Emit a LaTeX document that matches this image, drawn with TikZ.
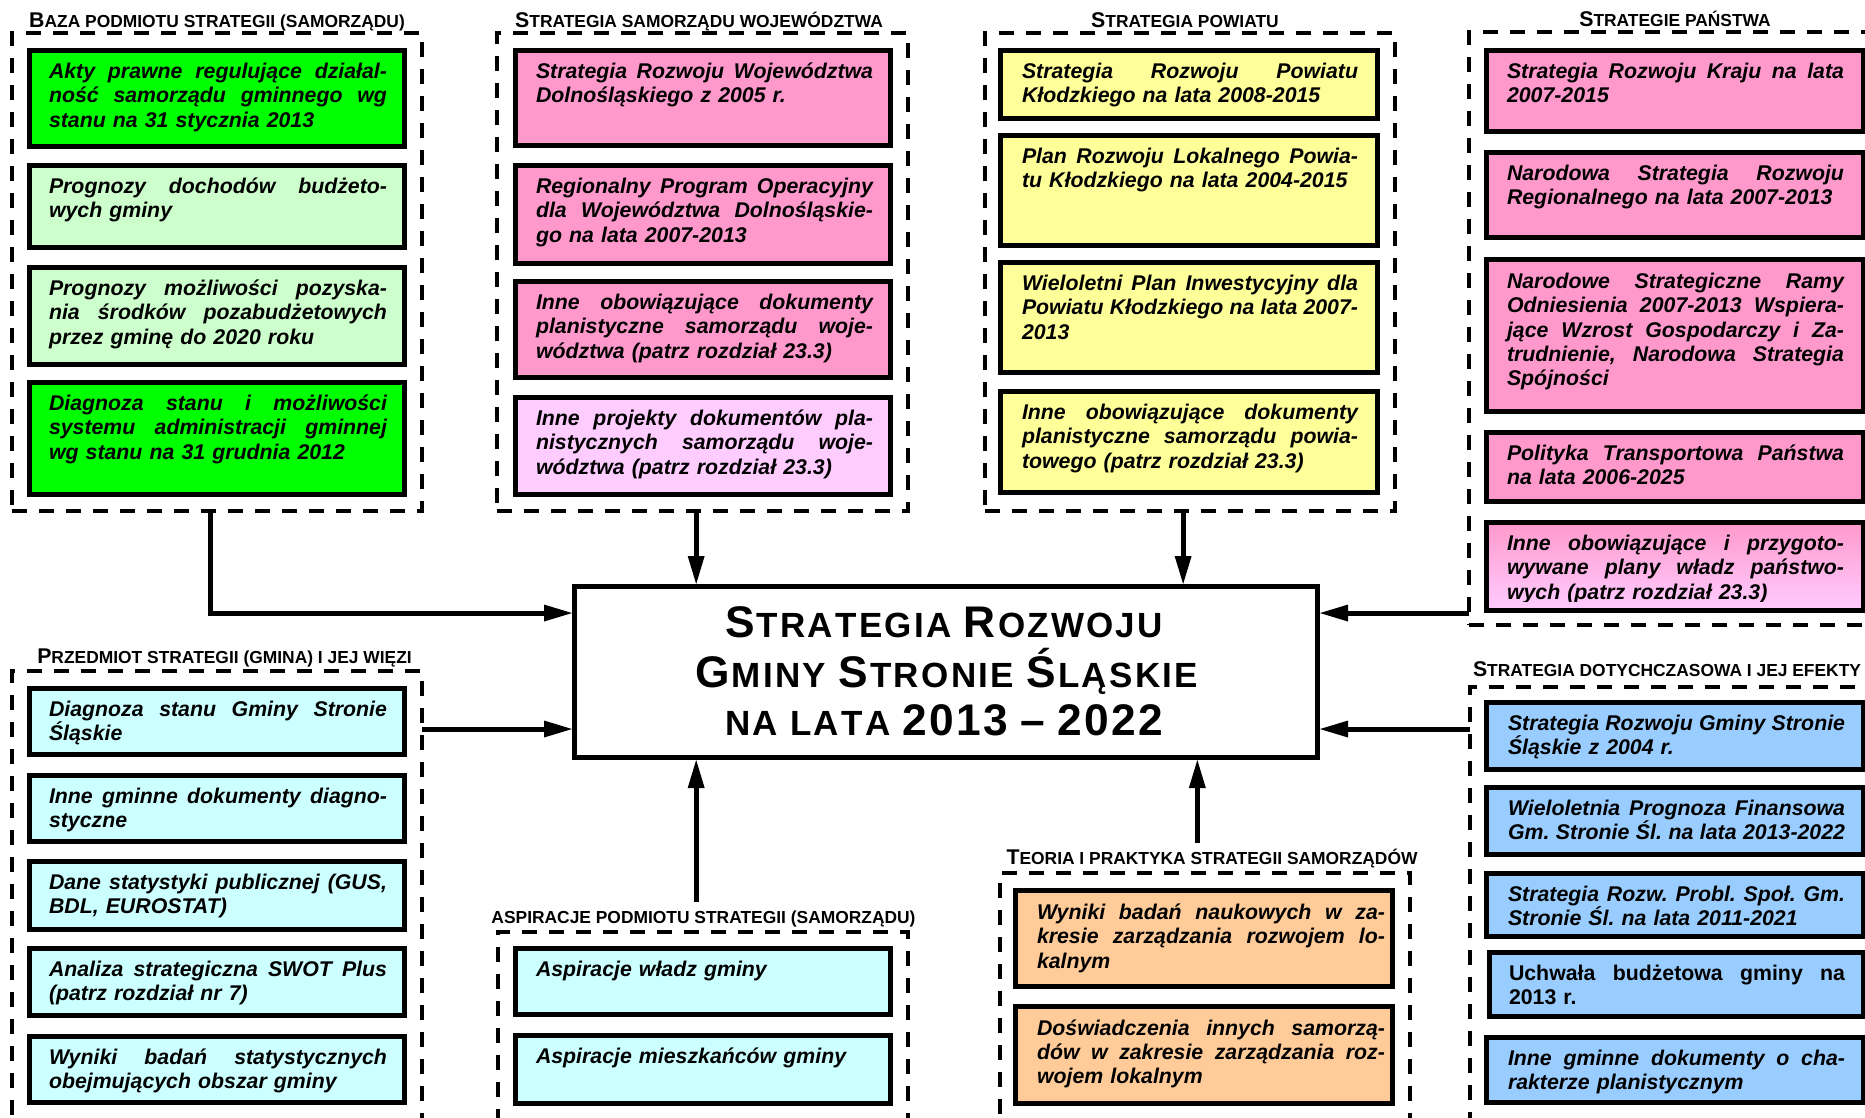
\documentclass[tikz,border=0pt]{standalone}
\usepackage{fontspec}
\setmainfont{Liberation Sans}
\usetikzlibrary{arrows.meta,calc}
\definecolor{cGreen}{HTML}{00FF00}
\definecolor{cLGreen}{HTML}{CCFFCC}
\definecolor{cPink}{HTML}{FF99CC}
\definecolor{cLPink}{HTML}{FFCCFF}
\definecolor{cYellow}{HTML}{FFFF99}
\definecolor{cCyan}{HTML}{CCFFFF}
\definecolor{cPeach}{HTML}{FFCC99}
\definecolor{cBlue}{HTML}{99CCFF}
\newlength\jw
\newcommand\jl[1]{\leavevmode\hbox to\jw{\spaceskip=.278em plus 1fil\relax\xspaceskip=\spaceskip #1}}
\newcommand\Lg[1]{{\fontsize{21.3}{20}\selectfont #1}}
\newcommand\Cg[1]{{\fontsize{44.3}{40}\selectfont #1}}
\newcommand\lgap{\hskip 0pt plus 1fil\relax}
\newcommand\wgap{\hskip 10pt plus 1fil\relax}
\newcommand\ibox[6]{\node[ibx,#2,minimum width={#5-#3-5},minimum height={#6-#4-5}] (#1) at ({#3+2.5},{#4+2.5}) {};}
\newcommand\itext[5]{\node[itx,text width=#4pt] (#1) at (#2,{#3-22}) {\jw=#4pt\relax\rule{0pt}{22pt}#5};}
\newcommand\grpbox[6]{\node[grp,minimum width={#5-#3},minimum height={#6-#4}] (#1) at (#3,#4) {};}
\begin{document}
\begin{tikzpicture}[x=1pt,y=-1pt,
  grp/.style={draw, line width=4pt, dash pattern=on 15pt off 12pt, inner sep=0pt, outer sep=0pt, anchor=north west},
  ibx/.style={draw, line width=5pt, inner sep=0pt, outer sep=0pt, anchor=north west},
  itx/.style={inner sep=0pt, outer sep=0pt, anchor=north west, align=left, font=\fontsize{21.3}{24.3}\selectfont\bfseries\itshape\frenchspacing},
  gttl/.style={inner sep=0pt, anchor=base, font=\fontsize{17.4}{20}\selectfont\bfseries},
  cbx/.style={draw, line width=5pt, fill=white, inner sep=0pt},
  ctt/.style={inner sep=0pt, anchor=base, font=\bfseries\fontsize{35}{40}\selectfont},
  arr/.style={line width=5pt, -{Triangle[length=28pt,width=17pt,line width=0pt]}}]
\useasboundingbox (0,0) rectangle (1865,1118);
\clip (0,0) rectangle (1865,1118);
\fill[white] (0,0) rectangle (1865,1118);

% ---------- dashed groups ----------
\grpbox{gBaza}{}{12}{33}{422}{511}
\grpbox{gWoj}{}{497}{33}{908}{511}
\grpbox{gPow}{}{985}{33}{1395}{511}
\grpbox{gPan}{}{1469}{32}{1889}{625}
\grpbox{gPrz}{}{12}{671}{422}{1150}
\grpbox{gAsp}{}{498}{932}{908}{1150}
\grpbox{gTeo}{}{1000}{873}{1410}{1150}
\grpbox{gDot}{}{1470}{687}{1890}{1150}

% ---------- group titles ----------
\node[gttl] (tBaza) at (217,28) {\Lg{B}AZA PODMIOTU STRATEGII (SAMORZĄDU)};
\node[gttl] (tWoj) at (699,28) {\Lg{S}TRATEGIA SAMORZĄDU WOJEWÓDZTWA};
\node[gttl] (tPow) at (1185,28) {\Lg{S}TRATEGIA POWIATU};
\node[gttl] (tPan) at (1675,27) {\Lg{S}TRATEGIE PAŃSTWA};
\node[gttl] (tPrz) at (224.5,663) {\Lg{P}RZEDMIOT STRATEGII (GMINA) I JEJ WIĘZI};
\node[gttl] (tAsp) at (703.5,923) {ASPIRACJE PODMIOTU STRATEGII (SAMORZĄDU)};
\node[gttl] (tTeo) at (1212,864) {\Lg{T}EORIA I PRAKTYKA STRATEGII SAMORZĄDÓW};
\node[gttl] (tDot) at (1667,676) {\Lg{S}TRATEGIA DOTYCHCZASOWA I JEJ EFEKTY};

% ---------- Baza ----------
\ibox{b1}{fill=cGreen}{27}{48}{407}{149}
\itext{b1t}{49}{78.5}{338}{\jl{Akty prawne regulujące działal-}\\\jl{ność samorządu gminnego wg}\\stanu na 31 stycznia 2013}
\ibox{b2}{fill=cLGreen}{27}{163}{407}{250}
\itext{b2t}{49}{193.5}{338}{\jl{Prognozy dochodów budżeto-}\\wych gminy}
\ibox{b3}{fill=cLGreen}{27}{265}{407}{367}
\itext{b3t}{49}{295.5}{338}{\jl{Prognozy możliwości pozyska-}\\\jl{nia środków pozabudżetowych}\\przez gminę do 2020 roku}
\ibox{b4}{fill=cGreen}{27}{380}{407}{497}
\itext{b4t}{49}{410.5}{338}{\jl{Diagnoza stanu i możliwości}\\\jl{systemu administracji gminnej}\\wg stanu na 31 grudnia 2012}

% ---------- Wojewodztwo ----------
\ibox{w1}{fill=cPink}{513}{48}{893}{148}
\itext{w1t}{536}{78.5}{337}{\jl{Strategia Rozwoju Województwa}\\Dolnośląskiego z 2005 r.}
\ibox{w2}{fill=cPink}{513}{163}{893}{266}
\itext{w2t}{536}{193.5}{337}{\jl{Regionalny Program Operacyjny}\\\jl{dla Województwa Dolnośląskie-}\\go na lata 2007-2013}
\ibox{w3}{fill=cPink}{513}{279}{893}{380}
\itext{w3t}{536}{309.5}{337}{\jl{Inne obowiązujące dokumenty}\\\jl{planistyczne samorządu woje-}\\wództwa (patrz rozdział 23.3)}
\ibox{w4}{fill=cLPink}{513}{395}{893}{497}
\itext{w4t}{536}{425.5}{337}{\jl{Inne projekty dokumentów pla-}\\\jl{nistycznych samorządu woje-}\\wództwa (patrz rozdział 23.3)}

% ---------- Powiat ----------
\ibox{p1}{fill=cYellow}{998}{48}{1380}{121}
\itext{p1t}{1022}{78.5}{336}{\jl{Strategia Rozwoju Powiatu}\\Kłodzkiego na lata 2008-2015}
\ibox{p2}{fill=cYellow}{998}{133}{1380}{248}
\itext{p2t}{1022}{163.5}{336}{\jl{Plan Rozwoju Lokalnego Powia-}\\tu Kłodzkiego na lata 2004-2015}
\ibox{p3}{fill=cYellow}{998}{260}{1380}{375}
\itext{p3t}{1022}{290.5}{336}{\jl{Wieloletni Plan Inwestycyjny dla}\\\jl{Powiatu Kłodzkiego na lata 2007-}\\2013}
\ibox{p4}{fill=cYellow}{998}{389}{1380}{495}
\itext{p4t}{1022}{419.5}{336}{\jl{Inne obowiązujące dokumenty}\\\jl{planistyczne samorządu powia-}\\towego (patrz rozdział 23.3)}

% ---------- Panstwo ----------
\ibox{s1}{fill=cPink}{1484}{48}{1866}{134}
\itext{s1t}{1507}{78.5}{337}{\jl{Strategia Rozwoju Kraju na lata}\\2007-2015}
\ibox{s2}{fill=cPink}{1484}{150}{1866}{240}
\itext{s2t}{1507}{180.5}{337}{\jl{Narodowa Strategia Rozwoju}\\Regionalnego na lata 2007-2013}
\ibox{s3}{fill=cPink}{1484}{257}{1866}{414}
\itext{s3t}{1507}{288.5}{337}{\jl{Narodowe Strategiczne Ramy}\\\jl{Odniesienia 2007-2013 Wspiera-}\\\jl{jące Wzrost Gospodarczy i Za-}\\\jl{trudnienie, Narodowa Strategia}\\Spójności}
\ibox{s4}{fill=cPink}{1484}{430}{1866}{504}
\itext{s4t}{1507}{460.5}{337}{\jl{Polityka Transportowa Państwa}\\na lata 2006-2025}
\ibox{s5}{top color=cPink,bottom color=cLPink}{1484}{520}{1866}{613}
\begin{scope}
\clip (1484,520) rectangle (1866,601);
\itext{s5t}{1507}{550.5}{337}{\jl{Inne obowiązujące i przygoto-}\\\jl{wywane plany władz państwo-}\\wych (patrz rozdział 23.3)}
\end{scope}

% ---------- Przedmiot ----------
\ibox{g1}{fill=cCyan}{27}{686}{407}{757}
\itext{g1t}{49}{716.5}{338}{\jl{Diagnoza stanu Gminy Stronie}\\Śląskie}
\ibox{g2}{fill=cCyan}{27}{773}{407}{844}
\itext{g2t}{49}{803.5}{338}{\jl{Inne gminne dokumenty diagno-}\\styczne}
\ibox{g3}{fill=cCyan}{27}{859}{407}{932}
\itext{g3t}{49}{889.5}{338}{\jl{Dane statystyki publicznej (GUS,}\\BDL, EUROSTAT)}
\ibox{g4}{fill=cCyan}{27}{946}{407}{1018}
\itext{g4t}{49}{976.5}{338}{\jl{Analiza strategiczna SWOT Plus}\\(patrz rozdział nr 7)}
\ibox{g5}{fill=cCyan}{27}{1034}{407}{1105}
\itext{g5t}{49}{1064.5}{338}{\jl{Wyniki badań statystycznych}\\obejmujących obszar gminy}

% ---------- Aspiracje ----------
\ibox{a1}{fill=cCyan}{513}{946}{893}{1017}
\itext{a1t}{536}{976.5}{337}{Aspiracje władz gminy}
\ibox{a2}{fill=cCyan}{513}{1033}{893}{1106}
\itext{a2t}{536}{1063.5}{337}{Aspiracje mieszkańców gminy}

% ---------- Teoria ----------
\ibox{t1}{fill=cPeach}{1013}{888}{1395}{989}
\itext{t1t}{1037}{919.5}{348}{\jl{Wyniki badań naukowych w za-}\\\jl{kresie zarządzania rozwojem lo-}\\kalnym}
\ibox{t2}{fill=cPeach}{1013}{1004}{1395}{1106}
\itext{t2t}{1037}{1035}{348}{\jl{Doświadczenia innych samorzą-}\\\jl{dów w zakresie zarządzania roz-}\\wojem lokalnym}

% ---------- Dotychczasowa ----------
\ibox{d1}{fill=cBlue}{1484}{700}{1866}{772}
\itext{d1t}{1508}{730.5}{337}{\jl{Strategia Rozwoju Gminy Stronie}\\Śląskie z 2004 r.}
\ibox{d2}{fill=cBlue}{1484}{785}{1866}{857}
\itext{d2t}{1508}{815.5}{337}{\jl{Wieloletnia Prognoza Finansowa}\\\jl{Gm. Stronie Śl. na lata 2013-2022}}
\ibox{d3}{fill=cBlue}{1484}{871}{1866}{939}
\itext{d3t}{1508}{901.5}{337}{\jl{Strategia Rozw. Probl. Społ. Gm.}\\Stronie Śl. na lata 2011-2021}
\ibox{d4}{fill=cBlue}{1487}{950}{1866}{1019}
\itext{d4t}{1509}{980.5}{336}{\upshape\jl{Uchwała budżetowa gminy na}\\2013 r.}
\ibox{d5}{fill=cBlue}{1484}{1035}{1866}{1105}
\itext{d5t}{1508}{1065.5}{337}{\jl{Inne gminne dokumenty o cha-}\\rakterze planistycznym}

% ---------- central box ----------
\node[cbx, minimum width=743, minimum height=171] (cbox) at (946,672) {};
\node[ctt] (ct1) at (944,637) {\hbox to 438pt{\Cg{S}\lgap T\lgap R\lgap A\lgap T\lgap E\lgap G\lgap I\lgap A\wgap\Cg{R}\lgap O\lgap Z\lgap W\lgap O\lgap J\lgap U}};
\node[ctt] (ct2) at (946.5,687) {\hbox to 503pt{\Cg{G}\lgap M\lgap I\lgap N\lgap Y\wgap\Cg{S}\lgap T\lgap R\lgap O\lgap N\lgap I\lgap E\wgap\Cg{Ś}\lgap L\lgap Ą\lgap S\lgap K\lgap I\lgap E}};
\node[ctt] (ct3) at (944,735) {\hbox to 438pt{N\lgap A\wgap L\lgap A\lgap T\lgap A\wgap\Cg{2}\lgap\Cg{0}\lgap\Cg{1}\lgap\Cg{3}\wgap\Cg{–}\wgap\Cg{2}\lgap\Cg{0}\lgap\Cg{2}\lgap\Cg{2}}};

% ---------- connectors ----------
\coordinate (pL1) at ($(cbox.north west)!0.165!(cbox.south west)$);
\coordinate (pL2) at ($(cbox.north west)!0.824!(cbox.south west)$);
\coordinate (pR1) at ($(cbox.north east)!0.165!(cbox.south east)$);
\coordinate (pR2) at ($(cbox.north east)!0.824!(cbox.south east)$);
\coordinate (pT1) at ($(cbox.north west)!0.166!(cbox.north east)$);
\coordinate (pT2) at ($(cbox.north west)!0.817!(cbox.north east)$);
\coordinate (pB1) at ($(cbox.south west)!0.166!(cbox.south east)$);
\coordinate (pB2) at ($(cbox.south west)!0.836!(cbox.south east)$);
\coordinate (bazaOut) at ($(gBaza.south west)!0.483!(gBaza.south east)$);
\coordinate (aspTop) at (pB1 |- 0,902);
\coordinate (teoTop) at (pB2 |- 0,843);

\draw[arr] (bazaOut) |- (pL1);
\draw[arr] (gWoj.south -| pT1) -- (pT1);
\draw[arr] (gPow.south -| pT2) -- (pT2);
\draw[arr] (gPan.west |- pR1) -- (pR1);
\draw[arr] (gPrz.east |- pL2) -- (pL2);
\draw[arr] (gDot.west |- pR2) -- (pR2);
\draw[arr] (aspTop) -- (pB1);
\draw[arr] (teoTop) -- (pB2);
\end{tikzpicture}
\end{document}
